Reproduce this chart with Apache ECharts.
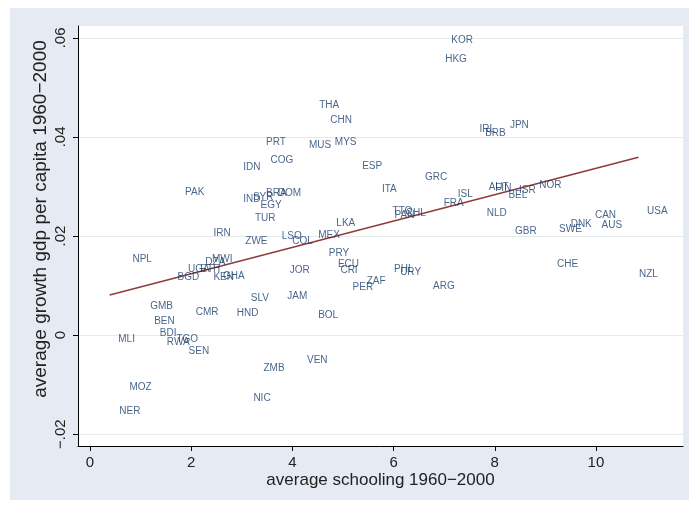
<!DOCTYPE html>
<html>
<head>
<meta charset="utf-8">
<script src="https://cdn.jsdelivr.net/npm/echarts@6/dist/echarts.min.js"></script>
<style>
  html, body { margin: 0; padding: 0; background: #fff; }
  #chart { width: 689px; height: 508px; }
</style>
</head>
<body>
<div id="chart"></div>
<script>
// country codes, schooling (x) and growth (y)
var countries = ['KOR','HKG','THA','CHN','PRT','MUS','MYS','IDN','COG','ESP',
  'IRL','BRB','JPN','GRC','ITA','ISL','FRA','PAK','IND','SYR',
  'BRA','DOM','EGY','TUR','IRN','ZWE','LSO','COL','MEX','LKA',
  'TTO','PAN','CHL','AUT','FIN','ISR','BEL','NOR','NLD','GBR',
  'SWE','DNK','CAN','AUS','USA','CHE','NZL','NPL','DZA','MWI',
  'UGA','ETH','BGD','KEN','GHA','JOR','PRY','ECU','CRI','PHL',
  'URY','ZAF','PER','ARG','JAM','SLV','GMB','BEN','CMR','HND',
  'BOL','MLI','BDI','RWA','TGO','SEN','VEN','ZMB','MOZ','NIC','NER'];
var schooling = [7.13, 7.01, 4.52, 4.74, 3.47, 4.32, 4.83, 3.02, 3.56, 5.37,
  7.69, 7.80, 8.29, 6.61, 5.76, 7.26, 6.98, 1.87, 3.02, 3.21,
  3.47, 3.70, 3.36, 3.25, 2.43, 3.06, 3.78, 3.99, 4.50, 4.86,
  5.97, 6.01, 6.23, 7.87, 8.00, 8.47, 8.26, 8.87, 7.83, 8.39,
  9.26, 9.49, 9.97, 10.10, 11.00, 9.22, 10.84, 0.83, 2.27, 2.40,
  1.93, 2.17, 1.72, 2.43, 2.62, 3.94, 4.71, 4.89, 4.94, 6.00,
  6.12, 5.46, 5.18, 6.77, 3.89, 3.17, 1.18, 1.26, 2.08, 2.89,
  4.50, 0.55, 1.37, 1.51, 1.70, 1.94, 4.28, 3.42, 0.77, 3.22, 0.57];
var growth = [0.0596, 0.0557, 0.0463, 0.0434, 0.0390, 0.0383, 0.0390, 0.0338, 0.0353, 0.0341,
  0.0415, 0.0407, 0.0424, 0.0318, 0.0294, 0.0284, 0.0266, 0.0288, 0.0275, 0.0278,
  0.0286, 0.0286, 0.0263, 0.0235, 0.0206, 0.0190, 0.0200, 0.0189, 0.0201, 0.0226,
  0.0249, 0.0241, 0.0245, 0.0299, 0.0296, 0.0292, 0.0283, 0.0303, 0.0245, 0.0209,
  0.0213, 0.0224, 0.0241, 0.0222, 0.0250, 0.0143, 0.0122, 0.0153, 0.0148, 0.0153,
  0.0133, 0.0132, 0.0116, 0.0116, 0.0119, 0.0131, 0.0165, 0.0143, 0.0130, 0.0132,
  0.0126, 0.0109, 0.0097, 0.0099, 0.0078, 0.0074, 0.0059, 0.0028, 0.0047, 0.0044,
  0.0039, -0.0009, 0.0003, -0.0014, -0.0008, -0.0032, -0.0050, -0.0068, -0.0105, -0.0128, -0.0154];

// fitted line end points
var fitX = [0.39, 10.84];
var fitY = [0.0081, 0.0359];

var xTicks = [0, 2, 4, 6, 8, 10];
var yTicks = [-0.02, 0, 0.02, 0.04, 0.06];

var font = 'Liberation Sans, Arial, sans-serif';

function fmtY (v) {
    var s = String(Math.round(v * 100) / 100);
    if (s === '0') return '0';
    s = s.replace('0.', '.');
    return s.replace('-', '\u2212');
}

var chart = echarts.init(document.getElementById('chart'));

var points = countries.map(function (c, i) {
    return {name: c, value: [schooling[i], growth[i]]};
});

chart.setOption({
    backgroundColor: '#ffffff',
    animation: false,
    graphic: [{
        type: 'rect',
        z: -100,
        shape: {x: 10, y: 8, width: 679, height: 492},
        style: {fill: '#e6eaf3'}
    }],
    grid: {
        left: 78, right: 6, top: 26, bottom: 62,
        show: true,
        backgroundColor: '#ffffff',
        borderWidth: 0
    },
    xAxis: {
        type: 'value',
        min: -0.236, max: 11.72,
        name: 'average schooling 1960\u22122000',
        nameLocation: 'middle',
        nameGap: 26,
        nameMoveOverlap: false,
        nameTextStyle: {fontFamily: font, fontSize: 17, color: '#222'},
        axisLine: {onZero: false, lineStyle: {color: '#000', width: 1}},
        axisTick: {customValues: xTicks, length: 5, lineStyle: {color: '#000'}},
        axisLabel: {customValues: xTicks, fontFamily: font, fontSize: 15, color: '#222', margin: 9},
        splitLine: {show: false}
    },
    yAxis: {
        type: 'value',
        min: -0.0224, max: 0.0624,
        name: 'average growth gdp per capita 1960\u22122000',
        nameLocation: 'middle',
        nameGap: 28,
        nameMoveOverlap: false,
        nameTextStyle: {fontFamily: font, fontSize: 19, color: '#222', padding: [0, 0, 0, 34]},
        axisLine: {onZero: false, lineStyle: {color: '#000', width: 1}},
        axisTick: {customValues: yTicks, length: 5, lineStyle: {color: '#000'}},
        axisLabel: {
            customValues: yTicks, rotate: 90, fontFamily: font, fontSize: 15, color: '#222', margin: 10,
            formatter: fmtY
        },
        splitLine: {show: false}
    },
    series: [
        {
            type: 'scatter',
            data: points,
            symbolSize: 1,
            itemStyle: {color: 'transparent'},
            label: {
                show: true,
                position: 'right',
                distance: 0,
                formatter: '{b}',
                fontFamily: font,
                fontSize: 10,
                color: '#1a3f6c'
            },
            markLine: {
                silent: true,
                symbol: 'none',
                label: {show: false},
                lineStyle: {color: '#e4ebef', width: 1, type: 'solid'},
                data: yTicks.map(function (v) { return {yAxis: v}; }),
                z: 0
            },
            z: 3
        },
        {
            type: 'line',
            data: [[fitX[0], fitY[0]], [fitX[1], fitY[1]]],
            showSymbol: false,
            lineStyle: {color: '#903a3a', width: 1.5},
            z: 2
        }
    ]
});
</script>
</body>
</html>
